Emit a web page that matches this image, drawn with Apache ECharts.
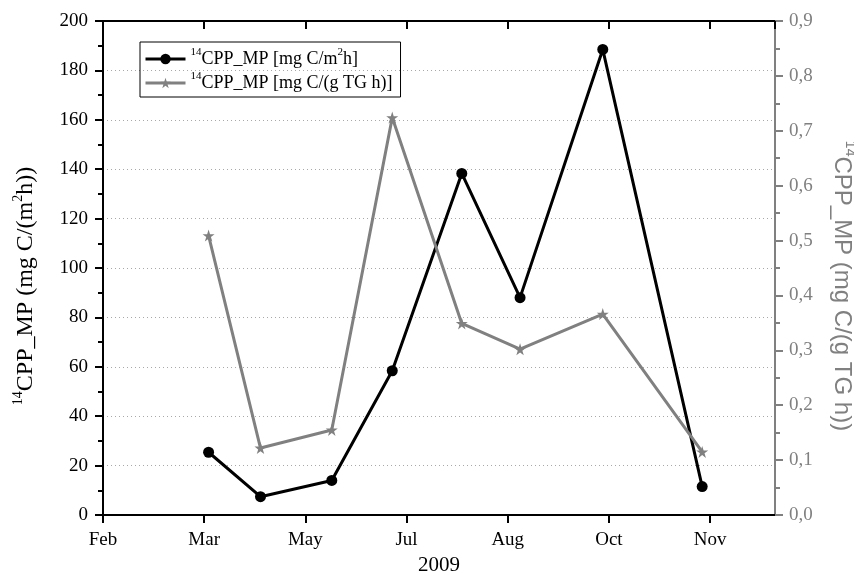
<!DOCTYPE html>
<html>
<head>
<meta charset="utf-8">
<script src="https://cdn.jsdelivr.net/npm/echarts@6/dist/echarts.min.js"></script>
<style>
  html, body { margin: 0; padding: 0; background: #fff; }
  #main { width: 854px; height: 574px; }
</style>
</head>
<body>
<div id="main"></div>
<script>
// 刻度标签（每 46 天一个刻度，从 2 月 1 日算起）
const tickLabels = ['Feb', 'Mar', 'May', 'Jul', 'Aug', 'Oct', 'Nov']
const tickStep = 46
const axisMax = 305.5

// 采样日（距 2 月 1 日的天数）
const sampleDay = [48, 71.6, 104, 131.5, 163.1, 189.6, 227.2, 272.4]
// 14CPP_MP [mg C/m2h]
const cppArea = [25.4, 7.4, 14, 58.4, 138.3, 88, 188.5, 11.5]
// 14CPP_MP [mg C/(g TG h)]
const cppBiomass = [0.509, 0.122, 0.155, 0.724, 0.349, 0.302, 0.366, 0.115]

const serif = 'Liberation Serif'
const sans = 'Liberation Sans'
const gray = '#808080'

// 上标用的富文本样式
const supRich = (size, color, family) => ({
    n: { fontSize: size, color: color, fontFamily: family, lineHeight: size + 6 },
    s: { fontSize: Math.round(size * 0.6), color: color, fontFamily: family, verticalAlign: 'top', lineHeight: Math.round(size * 0.6) }
})

var myChart = echarts.init(document.getElementById('main'))

var option = {
    backgroundColor: '#fff',
    animation: false,
    grid: { left: 103, right: 79, top: 21, bottom: 59, outerBoundsMode: 'none', containLabel: false },
    legend: {
        orient: 'vertical',
        left: 140,
        top: 42,
        padding: [5, 8, 5, 4],
        itemGap: 3,
        itemWidth: 40,
        itemHeight: 13,
        borderColor: '#000',
        borderWidth: 1,
        borderRadius: 0,
        lineStyle: { width: 3 },
        data: ['area', 'biomass'],
        formatter: function (name) {
            return name === 'area'
                ? '{s|14}{n|CPP_MP [mg C/m}{s|2}{n|h]}'
                : '{s|14}{n|CPP_MP [mg C/(g TG h)]}'
        },
        textStyle: { rich: supRich(18, '#000', serif) }
    },
    xAxis: [
        {
            type: 'value',
            min: 0,
            max: axisMax,
            interval: tickStep,
            position: 'bottom',
            name: '2009',
            nameLocation: 'middle',
            nameGap: 38,
            nameTextStyle: { fontFamily: serif, fontSize: 21, color: '#000' },
            axisLine: { onZero: false, lineStyle: { color: '#000', width: 2 } },
            axisTick: { inside: false, length: 8, lineStyle: { color: '#000', width: 2 } },
            axisLabel: {
                margin: 16,
                fontFamily: serif, fontSize: 19, color: '#000',
                showMaxLabel: false,
                formatter: function (v) { return tickLabels[Math.round(v / tickStep)] || '' }
            },
            splitLine: { show: false }
        },
        {
            type: 'value',
            min: 0,
            max: axisMax,
            interval: tickStep,
            position: 'top',
            axisLine: { onZero: false, lineStyle: { color: '#000', width: 2 } },
            axisTick: { inside: true, length: 8, lineStyle: { color: '#000', width: 2 } },
            axisLabel: { show: false },
            splitLine: { show: false }
        }
    ],
    yAxis: [
        {
            type: 'value',
            min: 0,
            max: 200,
            interval: 20,
            position: 'left',
            name: '{s|14}{n|CPP_MP (mg C/(m}{s|2}{n|h))}',
            nameLocation: 'middle',
            nameGap: 62,
            nameRotate: 90,
            nameTextStyle: { rich: supRich(24, '#000', serif), padding: [0, 36, 0, 0] },
            axisLine: { show: true, onZero: false, lineStyle: { color: '#000', width: 2 } },
            axisTick: { inside: false, length: 8, lineStyle: { color: '#000', width: 2 } },
            minorTick: { show: true, splitNumber: 2, length: 5, lineStyle: { color: '#000', width: 2 } },
            axisLabel: { margin: 15, fontFamily: serif, fontSize: 19, color: '#000' },
            splitLine: { show: true, lineStyle: { color: '#a8a8a8', width: 1, type: [1, 3] } }
        },
        {
            type: 'value',
            min: 0,
            max: 0.9,
            interval: 0.1,
            position: 'right',
            name: '{s|14}{n|CPP_MP (mg C/(g TG h))}',
            nameLocation: 'middle',
            nameGap: 52,
            nameRotate: -90,
            nameTextStyle: { rich: supRich(24, gray, sans), padding: [0, 0, 0, 36] },
            axisLine: { show: true, onZero: false, lineStyle: { color: gray, width: 2 } },
            axisTick: { inside: false, length: 8, lineStyle: { color: gray, width: 2 } },
            minorTick: { show: true, splitNumber: 2, length: 5, lineStyle: { color: gray, width: 2 } },
            axisLabel: {
                margin: 14, fontFamily: serif, fontSize: 19, color: gray,
                formatter: function (v) { return v.toFixed(1).replace('.', ',') }
            },
            splitLine: { show: false }
        }
    ],
    series: [
        {
            name: 'area',
            type: 'line',
            xAxisIndex: 0,
            yAxisIndex: 0,
            data: sampleDay.map((d, i) => [d, cppArea[i]]),
            symbol: 'circle',
            symbolSize: 11,
            itemStyle: { color: '#000' },
            lineStyle: { color: '#000', width: 3 }
        },
        {
            name: 'biomass',
            type: 'line',
            xAxisIndex: 0,
            yAxisIndex: 1,
            data: sampleDay.map((d, i) => [d, cppBiomass[i]]),
            symbol: 'path://M50,0 L61.8,35.5 L99,35.5 L69,57.5 L80.5,93 L50,71 L19.5,93 L31,57.5 L1,35.5 L38.2,35.5 Z',
            symbolSize: 12,
            itemStyle: { color: gray },
            lineStyle: { color: gray, width: 3 }
        }
    ]
}

option && myChart.setOption(option)
</script>
</body>
</html>
